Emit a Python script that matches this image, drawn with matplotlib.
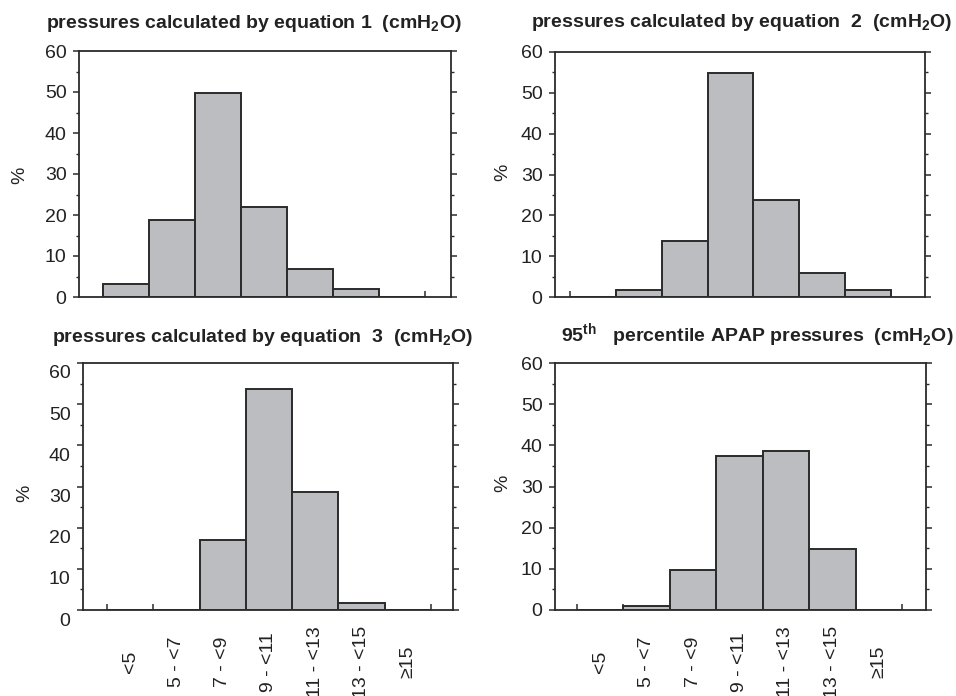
import matplotlib
matplotlib.use("Agg")
import matplotlib.pyplot as plt
from matplotlib.ticker import FixedLocator, MultipleLocator
from matplotlib.transforms import ScaledTranslation

plt.rcParams['font.family'] = ['Liberation Sans', 'DejaVu Sans']
plt.rcParams['mathtext.fontset'] = 'custom'
plt.rcParams['mathtext.rm'] = 'Liberation Sans'
plt.rcParams['mathtext.bf'] = 'Liberation Sans:bold'

categories = ["<5", "5 - <7", "7 - <9", "9 - <11", "11 - <13", "13 - <15", "≥15"]
eq1 = [3.2, 18.9, 49.8, 22.0, 6.9, 1.9, 0.0]
eq2 = [0.0, 1.7, 13.7, 54.9, 23.7, 5.8, 1.7]
eq3 = [0.0, 0.0, 16.9, 53.8, 28.7, 1.8, 0.0]
apap95 = [0.0, 0.9, 9.7, 37.5, 38.7, 14.7, 0.0]

titles = [
    r"pressures calculated by equation 1  (cmH$_\mathbf{2}$O)",
    r"pressures calculated by equation  2  (cmH$_\mathbf{2}$O)",
    r"pressures calculated by equation  3  (cmH$_\mathbf{2}$O)",
    r"95$^\mathbf{th}$   percentile APAP pressures  (cmH$_\mathbf{2}$O)",
]

W, H = 956, 696
fig = plt.figure(figsize=(W / 100, H / 100), dpi=100)

panels = [
    dict(box=(79, 451, 51, 297), xlim=(-1.022, 7.065), data=eq1, title_xy=(254, 28), pct=(20, 175), labels=False, yshift=0),
    dict(box=(555, 925, 52, 297), xlim=(-0.827, 7.24), data=eq2, title_xy=(742, 27), pct=(503, 172), labels=False, yshift=0),
    dict(box=(83, 453, 363, 610), xlim=(-1.018, 6.975), data=eq3, title_xy=(263, 342), pct=(25, 493), labels=True, yshift=-9),
    dict(box=(555, 926, 363, 610), xlim=(-0.974, 7.017), data=apap95, title_xy=(757, 342), pct=(503, 483), labels=True, yshift=0),
]

edge = "#2b2b2b"
fill = "#bcbdc1"
txt = "#222222"
x = list(range(len(categories)))

for p, title in zip(panels, titles):
    l, r, t, b = p["box"]
    ax = fig.add_axes([l / W, 1 - b / H, (r - l) / W, (b - t) / H])
    ax.bar(x, p["data"], width=1.0, color=fill, edgecolor=edge, linewidth=1.4, zorder=2)
    ax.set_xlim(*p["xlim"])
    ax.set_ylim(0, 60)
    for s in ax.spines.values():
        s.set_color(edge)
        s.set_linewidth(1.3)
    ax.yaxis.set_major_locator(MultipleLocator(10))
    ax.yaxis.set_minor_locator(MultipleLocator(5))
    ax.tick_params(axis='y', which='major', direction='out', length=4, width=1.1, color=edge,
                   labelsize=14, labelcolor=txt, pad=5, right=True)
    ax.tick_params(axis='y', which='minor', direction='out', length=2.5, width=1.0, color=edge, right=True)
    ax.xaxis.set_major_locator(FixedLocator(x))
    ax.xaxis.set_minor_locator(FixedLocator([i - 0.5 for i in range(len(categories) + 1)]))
    ax.tick_params(axis='x', which='minor', direction='in', length=4, width=1.1, color=edge)
    if p["labels"]:
        ax.set_xticklabels(categories)
        ax.tick_params(axis='x', which='major', length=0, pad=37.4, labelsize=14, labelcolor=txt)
        for lab in ax.get_xticklabels():
            lab.set_rotation(90)
            lab.set_va('center')
            lab.set_ha('center')
    else:
        ax.tick_params(axis='x', which='major', length=0, labelbottom=False)
    if p["yshift"]:
        for lab in ax.get_yticklabels():
            lab.set_transform(lab.get_transform() + ScaledTranslation(0, p["yshift"] / 100, fig.dpi_scale_trans))
    tx, ty = p["title_xy"]
    fig.text(tx / W, 1 - ty / H, title, ha='center', va='baseline', fontsize=14,
             fontweight='bold', color=txt)
    px, py = p["pct"]
    fig.text(px / W, 1 - py / H, "%", rotation=90, ha='center', va='center', fontsize=14, color=txt)

fig.savefig("out.png", dpi=100)
